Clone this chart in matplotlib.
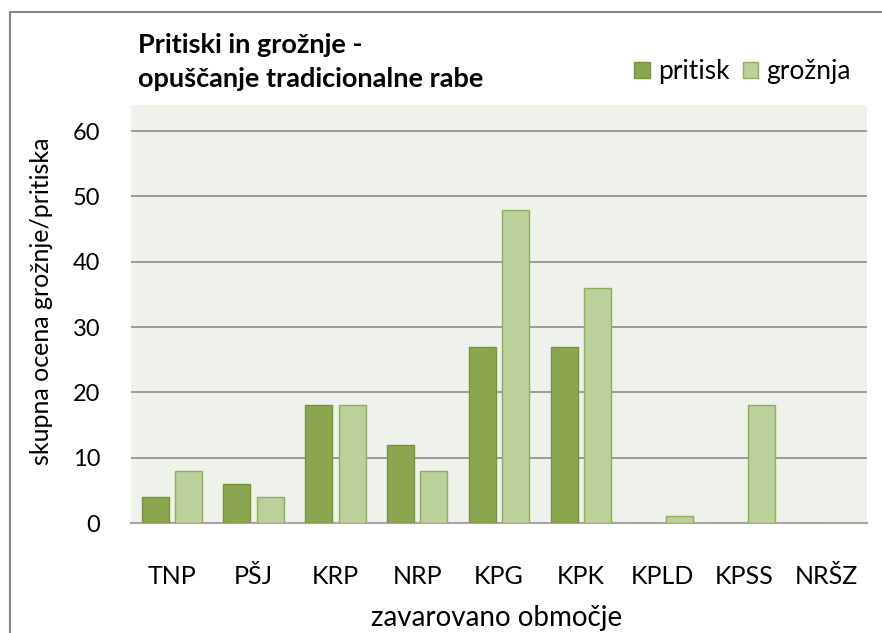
import matplotlib.pyplot as plt
import numpy as np
from matplotlib.lines import Line2D

plt.rcParams['font.family'] = ['Lato', 'DejaVu Sans']

# data
areas = ["TNP", "PŠJ", "KRP", "NRP", "KPG", "KPK", "KPLD", "KPSS", "NRŠZ"]
pritisk = [4, 6, 18, 12, 27, 27, 0, 0, 0]
groznja = [8, 4, 18, 8, 48, 36, 1, 18, 0]
yticks = [0, 10, 20, 30, 40, 50, 60]

fig = plt.figure(figsize=(8.82, 6.33), dpi=100)
ax = fig.add_axes([131/882, 1 - 523/633, (867-131)/882, (523-105)/633])
ax.set_facecolor("#eff2ea")

x = np.arange(len(areas))
w = 0.33
ax.bar(x - 0.205, pritisk, w, color="#8ba64f", edgecolor="#76923c",
       linewidth=1, label="pritisk", zorder=3)
ax.bar(x + 0.205, groznja, w, color="#bbd09a", edgecolor="#8fae5a",
       linewidth=1, label="grožnja", zorder=3)

ax.set_xlim(-0.5, len(areas) - 0.5)
ax.set_ylim(0, 64)
ax.set_yticks(yticks)
ax.set_xticks(x)
ax.set_xticklabels(areas, fontsize=18)
ax.tick_params(axis="y", labelsize=17, length=0, pad=22)
ax.tick_params(axis="x", length=0, pad=30)
ax.yaxis.grid(True, color="#8c8c8c", linewidth=1.2, zorder=0)
ax.set_axisbelow(True)
for s in ["top", "right", "left"]:
    ax.spines[s].set_visible(False)
ax.spines["bottom"].set_color("#a6a6a6")
ax.spines["bottom"].set_linewidth(1.5)

fig.text(138/882, 1 - 33/633, "Pritiski in grožnje -\nopuščanje tradicionalne rabe",
         fontsize=19.5, fontweight="bold", va="top", ha="left", linespacing=1.5)
fig.text(42/882, 1 - 301/633, "skupna ocena grožnje/pritiska", rotation=90,
         fontsize=18, ha="center", va="center")
fig.text(497/882, 1 - 618/633, "zavarovano območje", fontsize=20,
         ha="center", va="center")

ax.legend(loc="upper right", bbox_to_anchor=(864/882, 1 - 46/633),
          bbox_transform=fig.transFigure, ncol=2, frameon=False, fontsize=19,
          handlelength=0.6, handleheight=0.6, handletextpad=0.3,
          columnspacing=0.5, borderpad=0)

# outer frame (left and top only)
fig.add_artist(Line2D([10/882, 10/882], [0, 1 - 12/633], color="#888888",
                      linewidth=1.5, transform=fig.transFigure))
fig.add_artist(Line2D([10/882, 1], [1 - 12/633, 1 - 12/633], color="#888888",
                      linewidth=1.5, transform=fig.transFigure))

fig.savefig("out.png", dpi=100)
